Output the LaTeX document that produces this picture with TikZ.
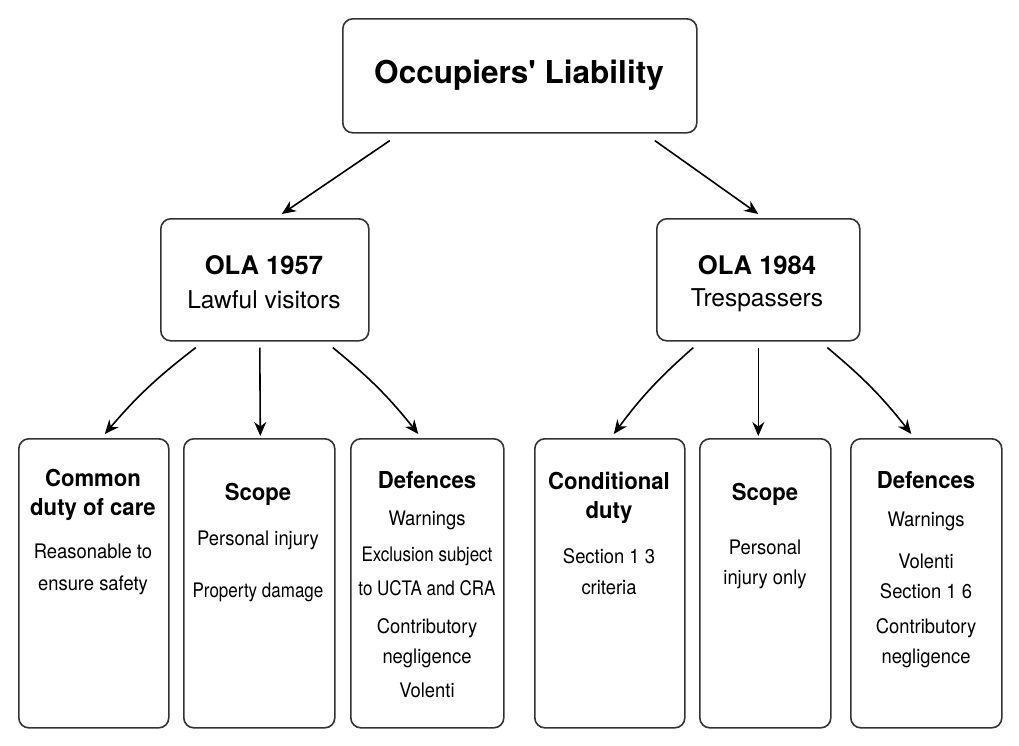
\documentclass[tikz,border=0pt]{standalone}
\usepackage{fontspec}
\setmainfont{TeX Gyre Heros}
\newfontfamily\narrowfont[FakeStretch=0.92]{TeX Gyre Heros}
\newfontfamily\tightfont[FakeStretch=0.85]{TeX Gyre Heros}
\newfontfamily\semifont[FakeStretch=0.95]{TeX Gyre Heros}
\usepackage{tikz}
\usetikzlibrary{positioning,arrows.meta,calc}

\begin{document}
\begin{tikzpicture}[
            x=1pt, y=-1pt,
            box/.style={
                draw=black!80, line width=1.6pt, rounded corners=10pt, fill=white, anchor=north west, inner sep=0pt
            },
            title/.style={font=\bfseries\fontsize{31.5}{35}\selectfont, text=black},
            midhead/.style={font=\bfseries\fontsize{25.6}{28}\selectfont, text=black},
            midbody/.style={font=\fontsize{24.5}{27}\selectfont, text=black},
            head/.style={font=\semifont\bfseries\fontsize{23.3}{26}\selectfont, text=black},
            body/.style={font=\narrowfont\fontsize{20}{23}\selectfont, text=black},
            tightbody/.style={font=\tightfont\fontsize{20}{23}\selectfont, text=black},
            link/.style={-{Stealth[length=14pt,width=12pt]}, line width=1.6pt, black}
        ]
            \useasboundingbox (0,0) rectangle (1019,745);

            % TOP BOX
            \node[box, minimum width=354pt, minimum height=114pt] (top) at (342,18) {};
            \node[title] (toptxt) at (519,75) {Occupiers\textquotesingle\ Liability};

            % --- SECOND LEVEL ---
            \node[box, minimum width=208pt, minimum height=122pt] (ola57) at (160,218) {};
            \node[midhead] (ola57a) at (264,265) {OLA 1957};
            \node[midbody] (ola57b) at (264,300) {Lawful visitors};

            \node[box, minimum width=203pt, minimum height=122pt] (ola84) at (656,218) {};
            \node[midhead] (ola84a) at (757,265) {OLA 1984};
            \node[midbody] (ola84b) at (757,300) {Trespassers};

            % --- BOTTOM ROW ---
            \node[box, minimum width=150pt, minimum height=289pt] (b1) at (18,438) {};
            \node[box, minimum width=151pt, minimum height=289pt] (b2) at (183,438) {};
            \node[box, minimum width=153pt, minimum height=289pt] (b3) at (350,438) {};
            \node[box, minimum width=150pt, minimum height=289pt] (b4) at (534,438) {};
            \node[box, minimum width=131pt, minimum height=289pt] (b5) at (699,438) {};
            \node[box, minimum width=151pt, minimum height=289pt] (b6) at (850,438) {};

            % common duty
            \node[head] (b1a) at (93,478) {Common};
            \node[head] (b1b) at (93,510) {duty of care};
            \node[body] (b1c) at (93,551) {Reasonable to};
            \node[body] (b1d) at (93,585) {ensure safety};

            % scope 1957
            \node[head] (b2a) at (258,494) {Scope};
            \node[body] (b2b) at (258,540) {Personal injury};
            \node[tightbody] (b2c) at (258,592) {Property damage};

            % defences 1957
            \node[head] (b3a) at (427,480) {Defences};
            \node[body] (b3b) at (427,520) {Warnings};
            \node[tightbody] (b3c) at (427,556) {Exclusion subject};
            \node[tightbody] (b3d) at (427,588) {to UCTA and CRA};
            \node[body] (b3e) at (427,628) {Contributory};
            \node[body] (b3f) at (427,658) {negligence};
            \node[body] (b3g) at (427,690) {Volenti};

            % conditional duty
            \node[head] (b4a) at (609,481) {Conditional};
            \node[head] (b4b) at (609,513) {duty};
            \node[body] (b4c) at (609,556) {Section 1 3};
            \node[body] (b4d) at (609,588) {criteria};

            % scope 1984
            \node[head] (b5a) at (765,494) {Scope};
            \node[body] (b5b) at (765,547) {Personal};
            \node[body] (b5c) at (765,579) {injury only};

            % defences 1984
            \node[head] (b6a) at (926,480) {Defences};
            \node[body] (b6b) at (926,521) {Warnings};
            \node[body] (b6c) at (926,561) {Volenti};
            \node[body] (b6d) at (926,591) {Section 1 6};
            \node[body] (b6e) at (926,628) {Contributory};
            \node[body] (b6f) at (926,658) {negligence};

            % ARROWS
            \draw[link] ([xshift=-130pt, yshift=-7pt]top.south) -- ([xshift=17pt, yshift=4pt]ola57.north);
            \draw[link] ([xshift=135pt, yshift=-7pt]top.south) -- ([xshift=0pt, yshift=4pt]ola84.north);

            \draw[link] ([xshift=-69pt, yshift=-6pt]ola57.south) to[bend right=6] ([xshift=11pt, yshift=4pt]b1.north);
            \draw[link] ([xshift=-5pt, yshift=-6pt]ola57.south) -- ([xshift=1pt, yshift=2pt]b2.north);
            \draw[link] ([xshift=68pt, yshift=-6pt]ola57.south) to[bend left=6] ([xshift=-9pt, yshift=4pt]b3.north);

            \draw[link] ([xshift=-65pt, yshift=-6pt]ola84.south) to[bend right=6] ([xshift=4pt, yshift=4pt]b4.north);
            \draw[link] ([xshift=0pt, yshift=-6pt]ola84.south) -- ([xshift=-7pt, yshift=2pt]b5.north);
            \draw[link] ([xshift=69pt, yshift=-6pt]ola84.south) to[bend left=6] ([xshift=-15pt, yshift=4pt]b6.north);

        \end{tikzpicture}
\end{document}
